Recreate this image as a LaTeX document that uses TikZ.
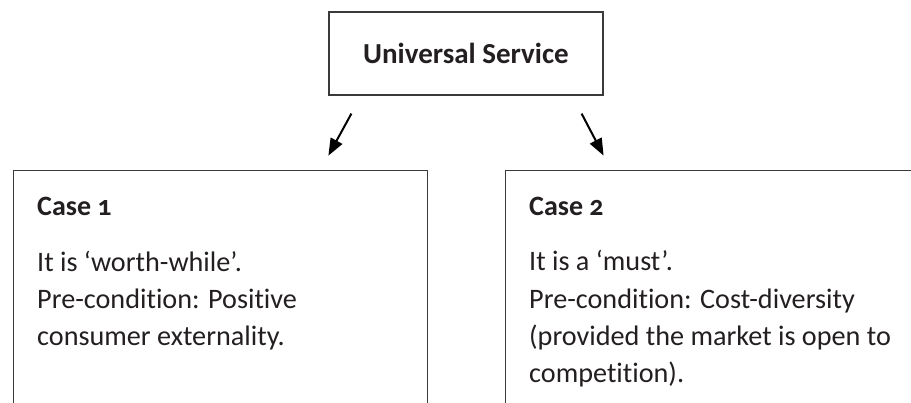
\documentclass[tikz,border=0pt]{standalone}
\usepackage{fontspec}
\setmainfont{Carlito}[Numbers=OldStyle, Ligatures=CommonOff]
\usetikzlibrary{arrows.meta,positioning,calc}
\definecolor{INK}{HTML}{231F20}
\definecolor{EDGE}{HTML}{3A3A3A}

\begin{document}
\begin{tikzpicture}[
  x=1pt, y=-1pt,
  box/.style={draw=EDGE, line width=1.2pt, inner sep=0pt},
  head/.style={font=\fontsize{28}{37}\selectfont\bfseries, text=INK,
    anchor=base west, inner sep=0pt},
  body/.style={font=\fontsize{28.2}{37.2}\selectfont, text=INK,
    anchor=base west, align=left, inner sep=0pt},
  pointer/.style={-{Triangle[length=17pt, width=13pt]}, draw=black, line width=2pt},
]
\useasboundingbox (0,0) rectangle (911,402);
\clip (0,0) rectangle (911,402);

% ---- top box --------------------------------------------------------------
\node[box, minimum width=274pt, minimum height=83pt, text=INK,
  font=\fontsize{29}{37}\selectfont\bfseries] (service) at (466,53.5) {Universal Service};

% ---- case frames (cut off by the page) ------------------------------------
\node[box, anchor=north west, minimum width=414pt, minimum height=300pt] (frame1) at (13,170) {};
\node[box, anchor=north west, minimum width=450pt, minimum height=300pt] (frame2) at (505,170) {};

% ---- case 1 (text node sits on its last baseline) -------------------------
\node[head] (case1) at (37,215) {Case 1};
\node[body] (text1) at (37,345.5) {It is ‘worth-while’.\\Pre-condition: Positive\\consumer externality.};

% ---- case 2 ---------------------------------------------------------------
\node[head] (case2) at (529,215) {Case 2};
\node[body] (text2) at (529,382.5) {It is a ‘must’.\\Pre-condition: Cost-diversity\\(provided the market is open to\\competition).};

% ---- arrows ---------------------------------------------------------------
\coordinate (left from) at ($(service.south west)+(23,18)$);
\coordinate (left to) at ($(service.south west)+(0,60)$);
\coordinate (right from) at ($(service.south east)+(-22,18)$);
\coordinate (right to) at ($(service.south east)+(0,60)$);
\draw[pointer] (left from) -- (left to);
\draw[pointer] (right from) -- (right to);

\end{tikzpicture}
\end{document}
